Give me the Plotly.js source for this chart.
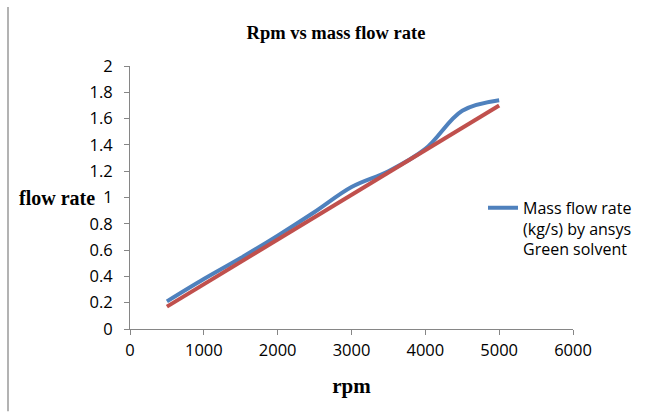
<!DOCTYPE html>
<html>
<head>
<meta charset="utf-8">
<script src="https://cdn.plot.ly/plotly-3.0.1.min.js"></script>
<style>html,body{margin:0;padding:0;background:#fff;}#chart{width:657px;height:412px;}</style>
</head>
<body>
<div id="chart"></div>
<script>
// Data
var rpm = [500, 1000, 1500, 2000, 2500, 3000, 3500, 4000, 4500, 5000];
var massFlowAnsys = [0.21, 0.38, 0.54, 0.71, 0.89, 1.08, 1.20, 1.37, 1.66, 1.74];
var trendRpm = [500, 5000];
var trendFlow = [0.17, 1.70];
var seriesName = 'Mass flow rate<br>(kg/s) by ansys<br>Green solvent';
var chartTitle = 'Rpm vs mass flow rate';
var xTitle = 'rpm';
var yTitle = 'flow rate';

var axisColor = '#868686';
var tickFont = {family: 'Open Sans, sans-serif', size: 16.5, color: '#000'};
var serif = 'Liberation Serif, Times New Roman, serif';

var traces = [
  {
    x: rpm, y: massFlowAnsys, type: 'scatter', mode: 'lines', name: seriesName,
    line: {color: '#4F81BD', width: 4, shape: 'spline', smoothing: 1},
    showlegend: true
  },
  {
    x: trendRpm, y: trendFlow, type: 'scatter', mode: 'lines', name: 'trend',
    line: {color: '#C0504D', width: 4},
    showlegend: false
  }
];

var layout = {
  width: 657, height: 412,
  margin: {l: 130, r: 84, t: 66, b: 82.5},
  paper_bgcolor: '#fff', plot_bgcolor: '#fff',
  title: {
    text: '<b>' + chartTitle + '</b>',
    font: {family: serif, size: 18.5, color: '#000'},
    xref: 'container', x: 336/657, xanchor: 'center',
    yref: 'container', y: 1 - 33/412, yanchor: 'middle'
  },
  xaxis: {
    range: [0, 6000], dtick: 1000, tick0: 0,
    showgrid: false, zeroline: false,
    showline: true, linecolor: axisColor, linewidth: 1,
    ticks: 'outside', ticklen: 5, tickcolor: axisColor, tickwidth: 1,
    tickfont: tickFont, ticklabelstandoff: 1,
    title: {text: '<b>' + xTitle + '</b>', font: {family: serif, size: 21, color: '#000'}, standoff: 18}
  },
  yaxis: {
    range: [0, 2], dtick: 0.2, tick0: 0,
    showgrid: false, zeroline: false,
    showline: true, linecolor: axisColor, linewidth: 1,
    ticks: 'outside', ticklen: 5, tickcolor: axisColor, tickwidth: 1,
    tickfont: tickFont, ticklabelstandoff: 8
  },
  legend: {
    x: (483-130)/443, xanchor: 'left', xref: 'paper',
    y: (329.5-191)/263.5, yanchor: 'top', yref: 'paper',
    valign: 'top',
    font: {family: 'Open Sans, sans-serif', size: 16, color: '#000'},
    bgcolor: 'rgba(0,0,0,0)', borderwidth: 0
  },
  annotations: [
    {
      text: '<b>' + yTitle + '</b>', showarrow: false,
      xref: 'paper', x: (56.5-130)/443, xanchor: 'center',
      yref: 'paper', y: (329.5-198)/263.5, yanchor: 'middle',
      font: {family: serif, size: 20, color: '#000'}
    }
  ],
  shapes: [
    {
      type: 'line', xref: 'paper', yref: 'paper',
      x0: (8-130)/443, x1: (8-130)/443,
      y0: (329.5-7)/263.5, y1: (329.5-412)/263.5,
      line: {color: '#9a9a9a', width: 1.5}
    }
  ]
};

Plotly.newPlot('chart', traces, layout, {displayModeBar: false, staticPlot: true});
</script>
</body>
</html>
